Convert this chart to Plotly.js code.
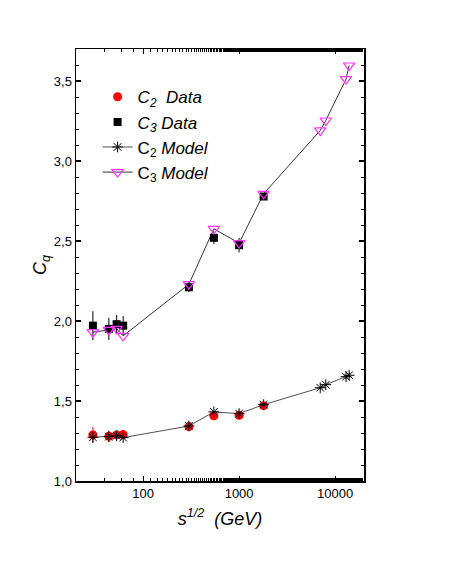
<!DOCTYPE html>
<html>
<head>
<meta charset="utf-8">
<script src="https://cdn.plot.ly/plotly-3.0.1.min.js"></script>
<style>
  body { margin: 0; background: #fff; }
  #chart { width: 449px; height: 581px; }
</style>
</head>
<body>
<div id="chart"></div>
<script>
// sqrt(s) energies in GeV
var dataEnergy = [30, 44, 53, 62, 300, 546, 1000, 1800];
var modelEnergy = [30, 44, 53, 62, 300, 546, 1000, 1800, 7000, 8000, 13000, 14000];

// measured moments
var c2Data = [1.288, 1.28, 1.288, 1.29, 1.34, 1.408, 1.411, 1.471];
var c2Err = [0.05, 0.035, 0.02, 0.02, 0.015, 0.02, 0.015, 0.012];
var c3Data = [1.971, 1.951, 1.98, 1.971, 2.211, 2.52, 2.474, 2.778];
var c3Err = [0.09, 0.07, 0.057, 0.06, 0.03, 0.04, 0.045, 0.02];

// model curves
var c2Model = [1.273, 1.277, 1.283, 1.271, 1.344, 1.432, 1.421, 1.477, 1.583, 1.602, 1.652, 1.661];
var c3Model = [1.93, 1.944, 1.951, 1.907, 2.23, 2.576, 2.487, 2.795, 3.191, 3.253, 3.512, 3.597];

var font = 'Arial, "Liberation Sans", sans-serif';

var data = [{
    type: 'scatter', mode: 'markers',
    x: dataEnergy, y: c2Data,
    name: '<i>C<sub>2</sub>  Data</i>',
    marker: {symbol: 'circle', size: 9, color: '#ff0000'},
    error_y: {type: 'data', array: c2Err, color: '#ff0000', thickness: 1, width: 0}
}, {
    type: 'scatter', mode: 'markers',
    x: dataEnergy, y: c3Data,
    name: '<i>C<sub>3</sub> Data</i>',
    marker: {symbol: 'square', size: 8, color: '#000000'},
    error_y: {type: 'data', array: c3Err, color: '#000000', thickness: 1, width: 0}
}, {
    type: 'scatter', mode: 'lines+markers',
    x: modelEnergy, y: c2Model,
    name: 'C<sub>2</sub> <i>Model</i>',
    line: {color: '#222222', width: 0.8},
    marker: {symbol: 'asterisk-open', size: 9, color: '#000000', line: {color: '#000000', width: 1}}
}, {
    type: 'scatter', mode: 'lines+markers',
    x: modelEnergy, y: c3Model,
    name: 'C<sub>3</sub> <i>Model</i>',
    line: {color: '#000000', width: 0.8},
    marker: {symbol: 'triangle-down-open', size: 10, color: '#ff33ff', line: {color: '#ff33ff', width: 1.2}}
}];

var axisCommon = {
    showline: true, linecolor: '#000', linewidth: 1.5, mirror: 'allticks',
    ticks: 'inside', ticklen: 5, tickwidth: 1.2, tickcolor: '#000',
    showgrid: false, zeroline: false,
    tickfont: {family: font, size: 13, color: '#000'}
};

var layout = {
    width: 449, height: 581,
    margin: {l: 76, r: 85, t: 49, b: 100},
    paper_bgcolor: '#fff', plot_bgcolor: '#fff',
    separators: ',.',
    font: {family: font, color: '#000'},
    showlegend: true,
    legend: {
        x: 0.075, y: 0.93, xanchor: 'left', yanchor: 'top',
        bgcolor: 'rgba(0,0,0,0)',
        font: {family: font, size: 17, color: '#000'},
        tracegroupgap: 0
    },
    xaxis: Object.assign({}, axisCommon, {
        type: 'log', range: [Math.log10(20), Math.log10(20000)],
        tickvals: [100, 1000, 10000], ticktext: ['100', '1000', '10000'],
        minor: {ticks: 'inside', ticklen: 3, tickwidth: 1, tickcolor: '#000', showgrid: false},
        title: {text: '<i>s<sup>1/2</sup>  (GeV)</i>', font: {family: font, size: 18}, standoff: 12}
    }),
    yaxis: Object.assign({}, axisCommon, {
        range: [1.0, 3.7], tick0: 1, dtick: 0.5, tickformat: '.1f',
        minor: {dtick: 0.1, ticks: 'inside', ticklen: 3, tickwidth: 1, tickcolor: '#000', showgrid: false},
        title: {text: '<i>C<sub>q</sub></i>', font: {family: font, size: 18}, standoff: 2}
    })
};

Plotly.newPlot('chart', data, layout, {displayModeBar: false, staticPlot: true});
</script>
</body>
</html>
